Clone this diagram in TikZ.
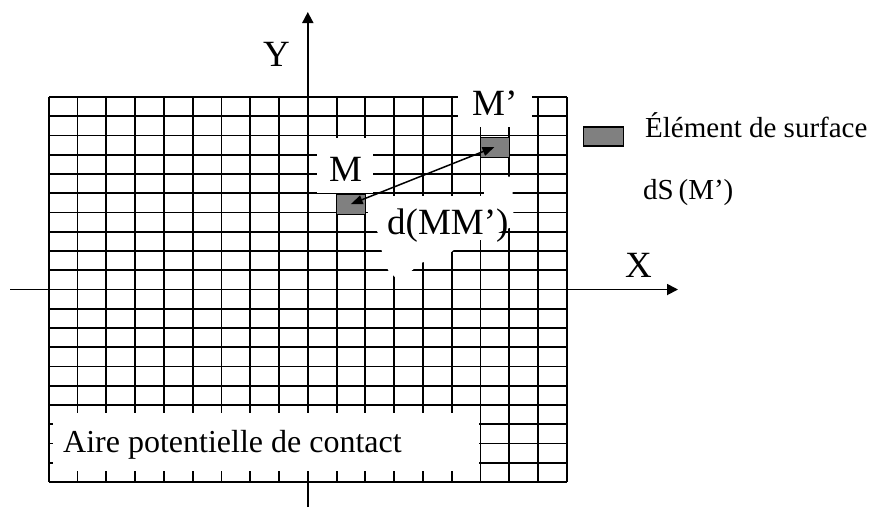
\documentclass[tikz,border=0pt]{standalone}
\usepackage{fontspec}
\setmainfont{Liberation Serif}
\usetikzlibrary{arrows.meta}
\definecolor{cellgray}{RGB}{128,128,128}
\begin{document}
\begin{tikzpicture}[x=1pt,y=-1pt,
  gridline/.style={line width=1.8pt,black},
  axisline/.style={line width=1.8pt,black,-{Triangle[length=11pt,width=11pt]}},
  patch/.style={fill=white,draw=none},
  cellbox/.style={draw=black,line width=1pt,fill=cellgray,minimum width=29pt,minimum height=20pt,inner sep=0pt},
  biglabel/.style={font=\fontsize{37}{40}\selectfont,inner sep=0pt,anchor=base west},
  midlabel/.style={font=\fontsize{32}{36}\selectfont,inner sep=0pt,anchor=base west},
  smalllabel/.style={font=\fontsize{29}{32}\selectfont,inner sep=0pt,anchor=base west},
  dist/.style={line width=1.5pt,{Triangle[length=12pt,width=9pt]}-{Triangle[length=12pt,width=9pt]}}]
\useasboundingbox (0,0) rectangle (893,507);
% grid
\foreach \i in {0,...,18} {
  \draw[gridline] ({48.8+28.78*\i},97) -- ({48.8+28.78*\i},482);
}
\foreach \j in {0,...,20} {
  \draw[gridline] (48.8,{97+19.25*\j}) -- (566.8,{97+19.25*\j});
}
% axes
\coordinate (xs) at (10,289.5);
\coordinate (xe) at (678,289.5);
\coordinate (ys) at (307.8,507);
\coordinate (ye) at (307.8,12);
\draw[axisline] (xs) -- (xe);
\draw[axisline] (ys) -- (ye);
% white patches
\fill[patch] (458,86) rectangle (532,127);
\fill[patch] (317,137.5) rectangle (373,193);
\fill[patch] (368,196) -- (484,196) -- (484,176.5) -- (512,176.5) -- (514,226) -- (486,238) -- (456,248) -- (450,253) -- (421,263) -- (410,272) -- (397,279) -- (388,270) -- (382,252) -- (378,233) -- (368,214) -- cycle;
\fill[patch] (53,413) rectangle (479,471);
% surface elements
\node[cellbox] (Msq) at (350.7,204.2) {};
\node[cellbox] (Mpsq) at (494.5,147) {};
\draw[dist] (Mpsq.center) -- (Msq.center);
% labels
\node[biglabel] (Ylab) at (263,66) {Y};
\node[biglabel] (Xlab) at (625,277) {X};
\node[biglabel] (Mplab) at (472,115) {M’};
\node[biglabel] (Mlab) at (329,181) {M};
\node[biglabel] (dlab) at (387,234) {d(MM’)};
\node[midlabel] (aire) at (63,452) {Aire potentielle de contact};
% legend
\node[draw=black,line width=1.2pt,fill=cellgray,minimum width=40pt,minimum height=19pt,inner sep=0pt] (legbox) at (603.5,136.5) {};
\node[smalllabel] (legtxt) at (645,137) {Élément de surface};
\node[smalllabel] (legds) at (643,199) {dS\,(M’)};
\end{tikzpicture}
\end{document}
